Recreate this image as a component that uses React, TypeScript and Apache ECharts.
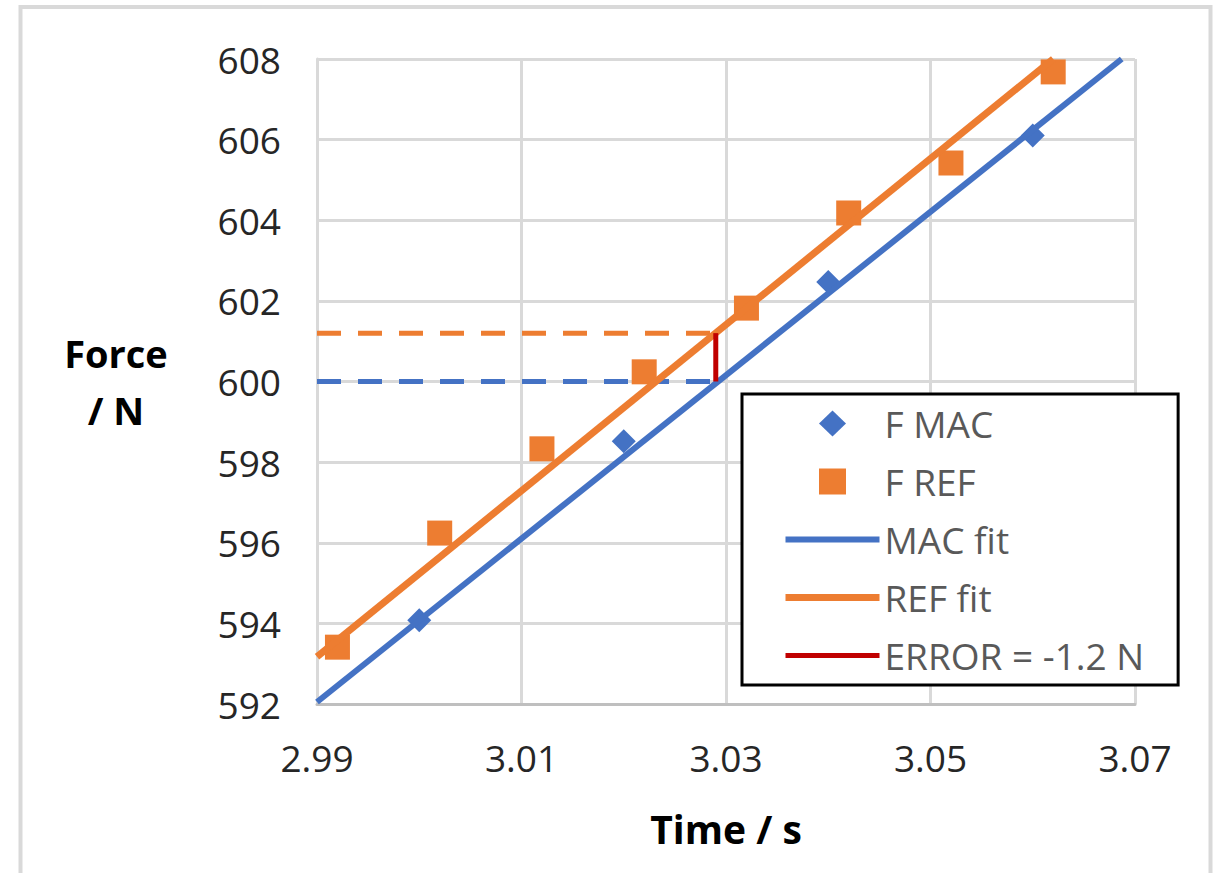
import React, { useEffect, useRef } from "react";
import * as echarts from "echarts";

// ---- data ----
const MAC_TIME = [3.0, 3.02, 3.04, 3.06];
const MAC_FORCE = [594.08, 598.52, 602.47, 606.1];

const REF_TIME = [2.992, 3.002, 3.012, 3.022, 3.032, 3.042, 3.052, 3.062];
const REF_FORCE = [593.41, 596.24, 598.33, 600.24, 601.82, 604.18, 605.42, 607.68];

const MAC_FIT_TIME = [2.99, 3.0687];
const MAC_FIT_FORCE = [592.05, 608];
const REF_FIT_TIME = [2.99, 3.062];
const REF_FIT_FORCE = [593.17, 608];

const CROSS_TIME = 3.029;
const MAC_LEVEL = 600;
const REF_LEVEL = 601.2;

const X_TICK_LABELS = ["2.99", "3.01", "3.03", "3.05", "3.07"];
const Y_TICKS = [592, 594, 596, 598, 600, 602, 604, 606, 608];

const LEGEND_NAMES = ["F MAC", "F REF", "MAC fit", "REF fit", "ERROR = -1.2 N"];

// x axis is drawn as milliseconds after 2.99 s so that ticks start at 2.99
const T0 = 2.99;
const MS = 1000;
const toX = (t: number) => Math.round((t - T0) * MS * 1000) / 1000;
const pairs = (ts: number[], fs: number[]) => ts.map((t, i) => [toX(t), fs[i]]);

const FONT = '"Open Sans", "Noto Sans", sans-serif';
const BLUE = "#4472C4";
const ORANGE = "#ED7D31";
const RED = "#C00000";

const HIDE_SYMBOL = { color: "rgba(0,0,0,0)", borderColor: "rgba(0,0,0,0)", borderWidth: 0 };
// legend icons padded to the full 94x26 item box so they are not stretched
const ICON_DIAMOND = "path://M0,13L0,13M94,13L94,13M47,0L60.5,13L47,26L33.5,13Z";
const ICON_SQUARE = "path://M0,13L0,13M94,13L94,13M33.5,0L60.5,0L60.5,26L33.5,26Z";

export default function App() {
  const ref = useRef<HTMLDivElement>(null);
  useEffect(() => {
    if (!ref.current) return;
    const chart = echarts.init(ref.current, undefined, { renderer: "svg" });
    chart.setOption({
      animation: false,
      backgroundColor: "#ffffff",
      textStyle: { fontFamily: FONT },
      graphic: [
        {
          type: "rect",
          shape: { x: 20.5, y: 7, width: 1190, height: 1000 },
          style: { fill: "none", stroke: "#D9D9D9", lineWidth: 4 },
          silent: true,
          z: -10,
        },
      ],
      grid: { left: 317, top: 59, right: 87, bottom: 169, containLabel: false },
      xAxis: {
        type: "value",
        min: 0,
        max: 80,
        interval: 20,
        name: "Time / s",
        nameLocation: "middle",
        nameGap: 124,
        nameTextStyle: {
          fontFamily: FONT,
          fontSize: 39,
          fontWeight: "bold",
          color: "#000000",
          verticalAlign: "middle",
        },
        axisLine: { show: true, lineStyle: { color: "#BFBFBF", width: 3 } },
        axisTick: { show: false },
        splitLine: { show: true, lineStyle: { color: "#D9D9D9", width: 3 } },
        axisLabel: {
          margin: 35,
          fontFamily: FONT,
          fontSize: 37,
          color: "#262626",
          formatter: (_v: number, i: number) => X_TICK_LABELS[i] ?? "",
        },
      },
      yAxis: {
        type: "value",
        min: Y_TICKS[0],
        max: Y_TICKS[Y_TICKS.length - 1],
        interval: 2,
        name: "Force\n/ N",
        nameLocation: "middle",
        nameRotate: 0,
        nameGap: 201,
        nameTextStyle: {
          fontFamily: FONT,
          fontSize: 38,
          fontWeight: "bold",
          color: "#000000",
          align: "center",
          verticalAlign: "middle",
          lineHeight: 57,
        },
        axisLine: { show: true, lineStyle: { color: "#D9D9D9", width: 3 } },
        axisTick: { show: false },
        splitLine: { show: true, lineStyle: { color: "#D9D9D9", width: 3 } },
        axisLabel: {
          margin: 36,
          fontFamily: FONT,
          fontSize: 37,
          color: "#262626",
          formatter: (v: number) => (Y_TICKS.includes(v) ? String(v) : ""),
        },
      },
      legend: {
        orient: "vertical",
        left: 742,
        top: 394,
        data: [
          { name: LEGEND_NAMES[0], icon: ICON_DIAMOND },
          { name: LEGEND_NAMES[1], icon: ICON_SQUARE },
          { name: LEGEND_NAMES[2], itemStyle: HIDE_SYMBOL },
          { name: LEGEND_NAMES[3], itemStyle: HIDE_SYMBOL },
          { name: LEGEND_NAMES[4], itemStyle: HIDE_SYMBOL },
        ],
        backgroundColor: "#ffffff",
        borderColor: "#000000",
        borderWidth: 3,
        borderRadius: 0,
        padding: [11, 34, 11, 40],
        itemWidth: 94,
        itemHeight: 26,
        itemGap: 21,
        selectedMode: false,
        lineStyle: { width: "inherit" },
        textStyle: { fontFamily: FONT, fontSize: 37, color: "#595959" },
        z: 10,
      },
      series: [
        {
          name: "_refLevel",
          type: "line",
          data: [
            [toX(T0), REF_LEVEL],
            [toX(CROSS_TIME), REF_LEVEL],
          ],
          symbol: "none",
          color: ORANGE,
          lineStyle: { color: ORANGE, width: 5, type: [24, 17] },
          silent: true,
          z: 2,
        },
        {
          name: "_macLevel",
          type: "line",
          data: [
            [toX(T0), MAC_LEVEL],
            [toX(CROSS_TIME), MAC_LEVEL],
          ],
          symbol: "none",
          color: BLUE,
          lineStyle: { color: BLUE, width: 5, type: [24, 17] },
          silent: true,
          z: 2,
        },
        {
          name: "F MAC",
          type: "scatter",
          symbol: "diamond",
          symbolSize: 24,
          color: BLUE,
          itemStyle: { color: BLUE, opacity: 1 },
          data: pairs(MAC_TIME, MAC_FORCE),
          z: 3,
        },
        {
          name: "F REF",
          type: "scatter",
          symbol: "rect",
          symbolSize: 25,
          color: ORANGE,
          itemStyle: { color: ORANGE, opacity: 1 },
          data: pairs(REF_TIME, REF_FORCE),
          z: 3,
        },
        {
          name: "MAC fit",
          type: "line",
          symbol: "none",
          color: BLUE,
          lineStyle: { color: BLUE, width: 6 },
          data: pairs(MAC_FIT_TIME, MAC_FIT_FORCE),
          z: 4,
        },
        {
          name: "REF fit",
          type: "line",
          symbol: "none",
          color: ORANGE,
          lineStyle: { color: ORANGE, width: 7 },
          data: pairs(REF_FIT_TIME, REF_FIT_FORCE),
          z: 4,
        },
        {
          name: "ERROR = -1.2 N",
          type: "line",
          symbol: "none",
          color: RED,
          lineStyle: { color: RED, width: 5 },
          data: [
            [toX(CROSS_TIME), MAC_LEVEL],
            [toX(CROSS_TIME), REF_LEVEL],
          ],
          z: 5,
        },
      ],
    });
    return () => chart.dispose();
  }, []);
  return (
    <div
      ref={ref}
      style={{ position: "absolute", left: 0, top: 0, width: 1222, height: 873 }}
    />
  );
}
